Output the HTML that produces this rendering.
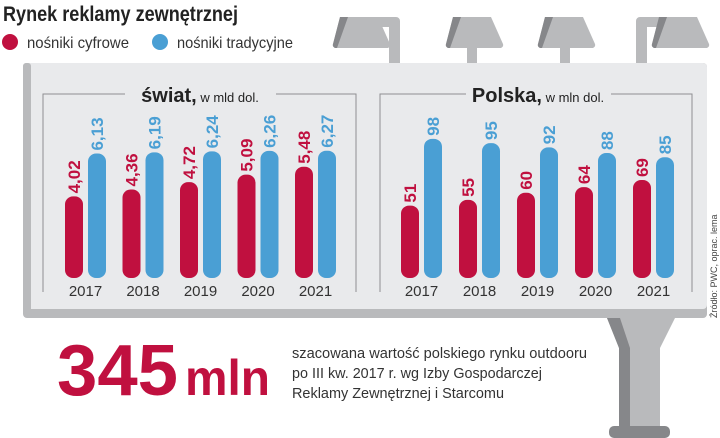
<!DOCTYPE html>
<html><head><meta charset="utf-8"><style>
body{margin:0;background:#fff;}
svg{display:block;font-family:"Liberation Sans Narrow","Liberation Sans",sans-serif;}
</style></head><body>
<svg width="720" height="438" viewBox="0 0 720 438">
<text x="3" y="21" font-size="21" font-weight="bold" fill="#222" textLength="235" lengthAdjust="spacingAndGlyphs">Rynek reklamy zewnętrznej</text>
<g>
<circle cx="10" cy="42" r="8" fill="#c0103f"/>
<text x="27" y="48" font-size="16" fill="#333" textLength="102" lengthAdjust="spacingAndGlyphs">nośniki cyfrowe</text>
<circle cx="160" cy="42" r="8" fill="#4a9fd4"/>
<text x="177" y="48" font-size="16" fill="#333" textLength="116" lengthAdjust="spacingAndGlyphs">nośniki tradycyjne</text>
</g>
<g fill="#b9babc">
<path d="M375 17 H396 a4 4 0 0 1 4 4 V63 H389 V27 H375Z"/>
<path d="M340 17 H378 L390 44 a3 3 0 0 1 -3 4 H336 a3 3 0 0 1 -3 -4Z"/>
<path d="M340 17 H348 L337 48 H336 a3 3 0 0 1 -3 -4Z" fill="#86878a"/>
<rect x="467" y="40" width="10" height="23"/>
<path d="M453 17 H491 L503 44 a3 3 0 0 1 -3 4 H449 a3 3 0 0 1 -3 -4Z"/>
<path d="M453 17 H461 L450 48 H449 a3 3 0 0 1 -3 -4Z" fill="#86878a"/>
<rect x="560" y="40" width="10" height="23"/>
<path d="M545 17 H583 L595 44 a3 3 0 0 1 -3 4 H541 a3 3 0 0 1 -3 -4Z"/>
<path d="M545 17 H553 L542 48 H541 a3 3 0 0 1 -3 -4Z" fill="#86878a"/>
<path d="M670 17 H640 a4 4 0 0 0 -4 4 V63 H647 V27 H670Z"/>
<path d="M659 17 H697 L709 44 a3 3 0 0 1 -3 4 H655 a3 3 0 0 1 -3 -4Z"/>
<path d="M659 17 H667 L656 48 H655 a3 3 0 0 1 -3 -4Z" fill="#86878a"/>
</g>
<g>
<path d="M607 318 H675 L660 348 V428 H619 V348Z" fill="#b9babc"/>
<path d="M607 318 H620 L630 348 V428 H619 V348Z" fill="#86878a"/>
<rect x="609" y="426" width="61" height="12" rx="5" fill="#86878a"/>
</g>
<g>
<rect x="23" y="63" width="684" height="255" rx="4" fill="#b9babc"/>
<rect x="23" y="63" width="684" height="246" rx="4" fill="#e9eaec"/>
<rect x="23" y="63" width="8" height="252" rx="3" fill="#b9babc"/>
</g>
<g stroke="#8e8f92" fill="none" stroke-width="1">
<path d="M43 292 V94 H125 M276 94 H356 V292"/>
</g>
<g stroke="#8e8f92" fill="none" stroke-width="1">
<path d="M380 292 V94 H466 M611 94 H692 V292"/>
</g>
<text x="200" y="102" text-anchor="middle" fill="#222"><tspan font-size="20" font-weight="bold">świat,</tspan><tspan font-size="13"> w mld dol.</tspan></text>
<text x="538" y="102" text-anchor="middle" fill="#222"><tspan font-size="20" font-weight="bold">Polska,</tspan><tspan font-size="13"> w mln dol.</tspan></text>
<g id="charts"></g>
<text x="57" y="395" font-size="72" font-weight="bold" fill="#c0103f" textLength="121" lengthAdjust="spacingAndGlyphs">345</text>
<text x="185" y="395" font-size="50" font-weight="bold" fill="#c0103f" textLength="85" lengthAdjust="spacingAndGlyphs">mln</text>
<g font-size="15" fill="#333">
<text x="292" y="358" textLength="295" lengthAdjust="spacingAndGlyphs">szacowana wartość polskiego rynku outdooru</text>
<text x="292" y="378" textLength="250" lengthAdjust="spacingAndGlyphs">po III kw. 2017 r. wg Izby Gospodarczej</text>
<text x="292" y="398" textLength="212" lengthAdjust="spacingAndGlyphs">Reklamy Zewnętrznej i Starcomu</text>
</g>
<text transform="translate(717,318) rotate(-90)" font-size="9" fill="#444">Źródło: PWC, oprac. lema</text>
</svg>
<script>
const years=["2017","2018","2019","2020","2021"];
const worldDigital=[4.02,4.36,4.72,5.09,5.48];
const worldTraditional=[6.13,6.19,6.24,6.26,6.27];
const worldDigitalLabels=["4,02","4,36","4,72","5,09","5,48"];
const worldTraditionalLabels=["6,13","6,19","6,24","6,26","6,27"];
const plDigital=[51,55,60,64,69];
const plTraditional=[98,95,92,88,85];
const NS="http://www.w3.org/2000/svg";
const g=document.getElementById('charts');
function draw(name,x0,step,scale,dig,trad,digL,tradL){
  const base=278,bw=18,gap=5;
  const yS=v=>base-v*scale;
  years.forEach((yr,i)=>{
    const xr=x0+i*step, xb=xr+bw+gap;
    [[dig[i],digL[i],xr,'#c0103f','digital'],[trad[i],tradL[i],xb,'#4a9fd4','traditional']].forEach(([v,l,x,c,s])=>{
      const r=document.createElementNS(NS,'rect');
      const top=yS(v);
      r.setAttribute('x',x);r.setAttribute('y',top);r.setAttribute('width',bw);
      r.setAttribute('height',base-top);r.setAttribute('rx',8);r.setAttribute('fill',c);
      
      
      g.appendChild(r);
      const t=document.createElementNS(NS,'text');
      t.setAttribute('transform',`translate(${x+bw/2+6},${top-3}) rotate(-90)`);
      t.setAttribute('font-size','17');t.setAttribute('font-weight','bold');t.setAttribute('fill',c);
      t.textContent=l;
      
      
      g.appendChild(t);
    });
    const yt=document.createElementNS(NS,'text');
    yt.setAttribute('x',xr+bw+gap/2);yt.setAttribute('y',296);yt.setAttribute('text-anchor','middle');
    yt.setAttribute('font-size','15');yt.setAttribute('fill','#333');
    yt.textContent=yr;
    
    
    g.appendChild(yt);
  });
}
draw('world',65,57.5,20.3,worldDigital,worldTraditional,worldDigitalLabels,worldTraditionalLabels);
draw('poland',401,58,1.42,plDigital,plTraditional,plDigital.map(String),plTraditional.map(String));
</script>
</body></html>
